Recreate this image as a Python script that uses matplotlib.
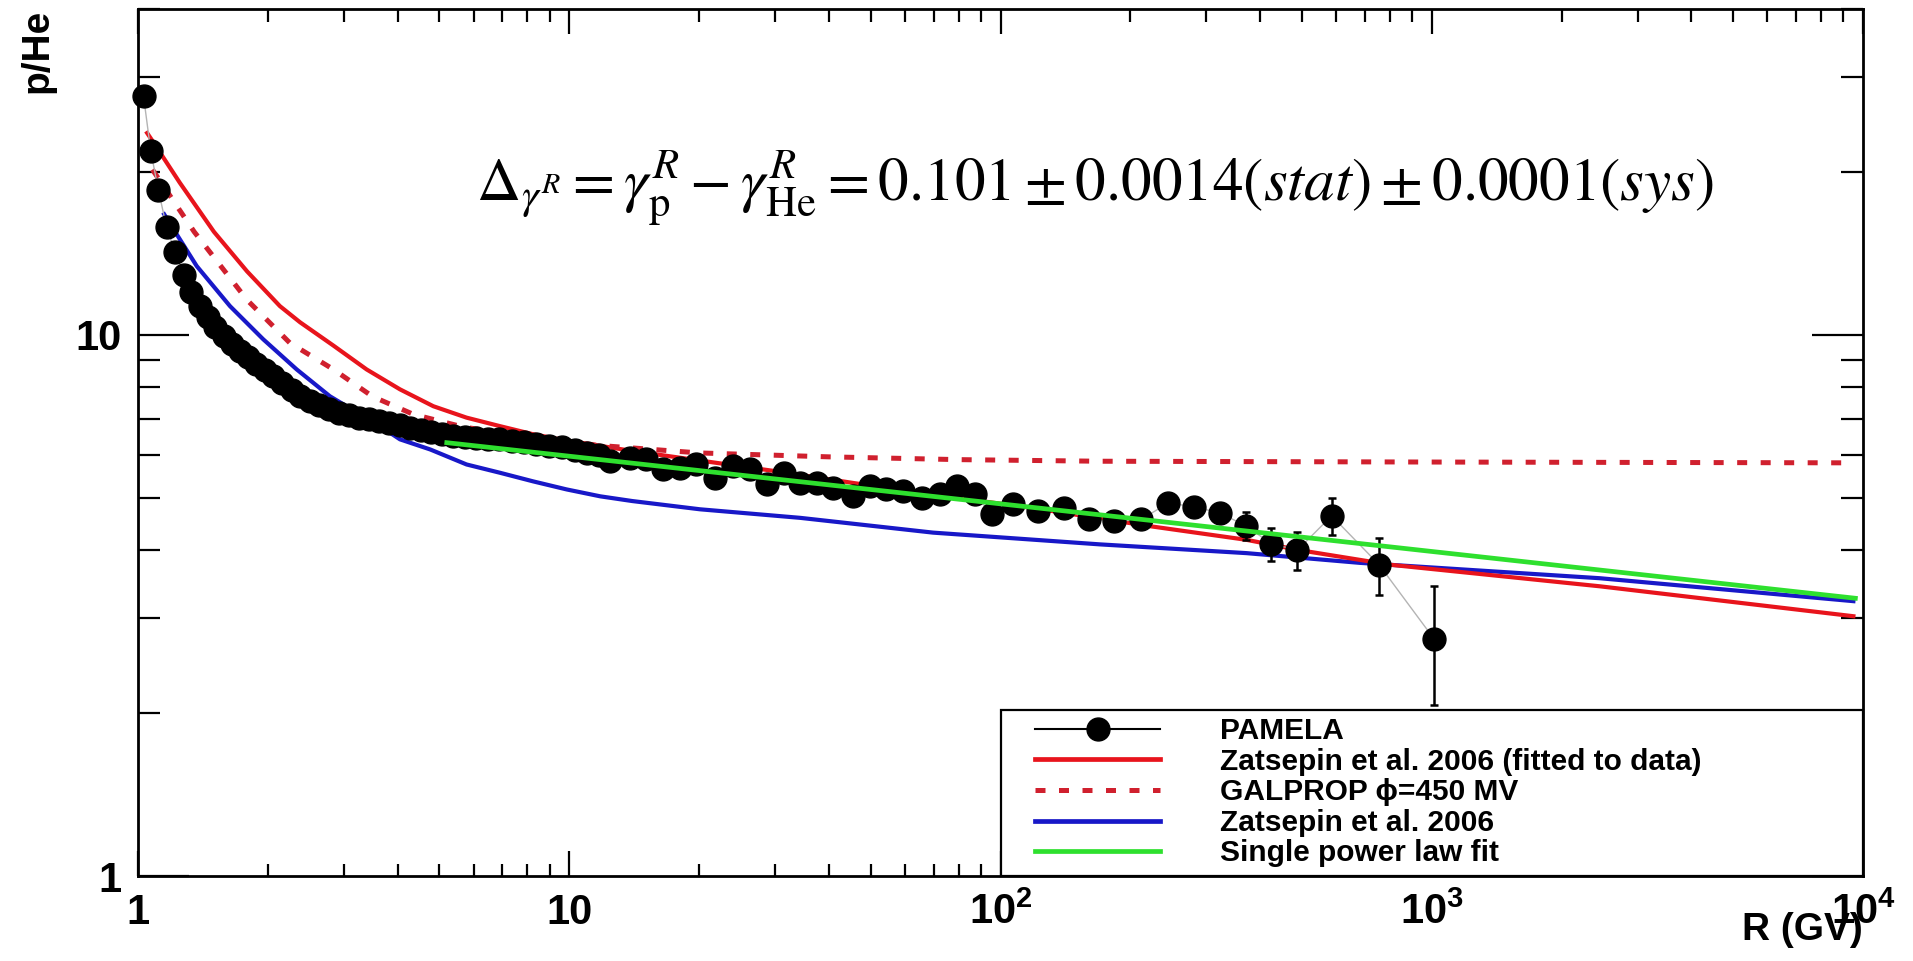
import matplotlib
matplotlib.use('Agg')
import matplotlib.pyplot as plt
from matplotlib.lines import Line2D
from matplotlib.patches import Rectangle
from matplotlib.ticker import NullFormatter

# PAMELA p/He ratio vs rigidity R (GV)
rig = [1.03, 1.07, 1.115, 1.165, 1.22, 1.275, 1.33, 1.39, 1.45, 1.51, 1.58, 1.65,
       1.72, 1.80, 1.88, 1.97, 2.06, 2.16, 2.27, 2.38, 2.50, 2.63, 2.77, 2.92,
       3.08, 3.25, 3.43, 3.62, 3.82, 4.04, 4.27, 4.52, 4.79, 5.08, 5.39, 5.72,
       6.08, 6.47, 6.89, 7.35, 7.85, 8.39, 8.97, 9.6, 10.3, 11.0, 11.7,
       12.4, 13.8, 15.1, 16.5, 18.1, 19.7, 21.8, 24.0, 26.2, 28.7, 31.4, 34.3,
       37.5, 40.9, 45.6, 49.8, 54.4, 59.5, 65.6, 72.4, 79.1, 87.2, 95.4, 107,
       122, 140, 160, 183, 212, 245, 281, 322, 370, 425, 488, 586, 755, 1013]
ratio = [27.6, 21.9, 18.5, 15.8, 14.2, 12.9, 12.0, 11.3, 10.8, 10.35, 9.95, 9.6,
         9.35, 9.1, 8.85, 8.6, 8.38, 8.15, 7.9, 7.72, 7.55, 7.42, 7.3, 7.18,
         7.1, 7.03, 6.98, 6.92, 6.86, 6.8, 6.74, 6.67, 6.6, 6.55, 6.51, 6.48,
         6.45, 6.43, 6.41, 6.37, 6.33, 6.28, 6.24, 6.2, 6.13, 6.06, 6.0,
         5.84, 5.93, 5.89, 5.64, 5.68, 5.76, 5.44, 5.72, 5.64, 5.29, 5.56, 5.33,
         5.33, 5.22, 5.03, 5.25, 5.18, 5.14, 5.00, 5.07, 5.25, 5.07, 4.66, 4.86,
         4.72, 4.79, 4.56, 4.52, 4.56, 4.89, 4.81, 4.69, 4.44, 4.11, 4.00, 4.63, 3.76, 2.74]
# visible error bars on the last six points
err_lo = [0.27, 0.29, 0.33, 0.36, 0.46, 0.67]
err_hi = [0.27, 0.29, 0.33, 0.36, 0.46, 0.69]

# Zatsepin et al. 2006 (fitted to data)
zfit_x = [1.05, 1.085, 1.25, 1.5, 1.79, 2.133, 2.375, 2.84, 3.39, 4.05, 4.84, 5.78,
          6.91, 8.25, 9.52, 14, 30, 60, 120, 222, 372, 494, 800, 2455, 9500]
zfit_y = [23.6, 22.7, 19.1, 15.5, 13.1, 11.3, 10.55, 9.55, 8.63, 7.93, 7.38, 7.03,
          6.78, 6.55, 6.41, 6.1, 5.6, 5.15, 4.78, 4.43, 4.18, 4.0, 3.76, 3.43, 3.02]

# GALPROP phi=450 MV
galp_x = [1.08, 1.35, 1.79, 2.25, 2.84, 3.5, 4.35, 5.7, 8.0, 11.6, 20, 40, 80,
          170, 1000, 9500]
galp_y = [20.2, 15.5, 11.6, 9.66, 8.63, 7.69, 7.13, 6.75, 6.5, 6.25, 6.05, 5.95, 5.88,
          5.84, 5.82, 5.80]

# Zatsepin et al. 2006
zats_x = [1.15, 1.207, 1.368, 1.634, 1.952, 2.334, 2.786, 3.39, 3.64, 4.05, 4.76, 5.78,
          6.91, 8.25, 9.86, 11.8, 14.0, 20.1, 34.3, 69.8, 170, 372, 681, 2455, 9500]
zats_y = [16.7, 15.7, 13.4, 11.3, 9.81, 8.63, 7.70, 7.01, 6.78, 6.41, 6.14, 5.76,
          5.56, 5.36, 5.18, 5.03, 4.93, 4.76, 4.59, 4.31, 4.10, 3.95, 3.79, 3.55, 3.22]

# single power law fit
spl_x = [5.2, 9600]
spl_y = [6.32, 3.26]

xticks = [1, 10, 100, 1000, 10000]
xtick_labels = ['1', '10', r'$\mathregular{10^{2}}$', r'$\mathregular{10^{3}}$', r'$\mathregular{10^{4}}$']
yticks = [1, 10]
ytick_labels = ['1', '10']

legend_labels = ['PAMELA', 'Zatsepin et al. 2006 (fitted to data)', 'GALPROP \u03d5=450 MV',
                 'Zatsepin et al. 2006', 'Single power law fit']

RED = '#e8141c'
DRED = '#d0202e'
BLUE = '#1818c8'
GREEN = '#2ee02e'
FAM = ['Liberation Sans', 'DejaVu Sans']

plt.rcParams['font.family'] = FAM
plt.rcParams['mathtext.fontset'] = 'custom'
plt.rcParams['mathtext.rm'] = 'Liberation Sans:bold'
plt.rcParams['mathtext.it'] = 'Liberation Sans:italic:bold'
plt.rcParams['mathtext.bf'] = 'Liberation Sans:bold'

fig = plt.figure(figsize=(19.13, 9.61), dpi=100)
ax = fig.add_axes([138 / 1913, 1 - 876 / 961, 1725 / 1913, 867 / 961])
ax.set_xscale('log')
ax.set_yscale('log')
ax.set_xlim(1, 1e4)
ax.set_ylim(1, 40)

ax.plot(zats_x, zats_y, color=BLUE, lw=3.0, zorder=2)
ax.plot(zfit_x, zfit_y, color=RED, lw=3.0, zorder=2)
ax.plot(galp_x, galp_y, color=DRED, lw=3.6, linestyle=(0, (2.0, 2.7)), zorder=2)

ax.plot(rig, ratio, color='#b4b4b4', lw=1.0, zorder=3)
ax.errorbar(rig[-6:], ratio[-6:], yerr=[err_lo, err_hi], fmt='none', ecolor='black',
            elinewidth=1.8, capsize=3, capthick=1.8, zorder=4)
ax.plot(rig, ratio, 'o', color='black', ms=16.5, zorder=5, clip_on=False)

ax.plot(spl_x, spl_y, color=GREEN, lw=3.4, zorder=6)

# axes styling (ROOT-like)
for sp in ax.spines.values():
    sp.set_linewidth(2)
ax.tick_params(which='both', direction='in', top=True, right=True, width=1.6, pad=12)
ax.tick_params(axis='x', which='major', length=18)
ax.tick_params(axis='x', which='minor', length=9)
ax.tick_params(axis='y', which='major', length=37)
ax.tick_params(axis='y', which='minor', length=16)
ax.set_xticks(xticks)
ax.set_xticklabels(xtick_labels, fontsize=30, fontweight='bold')
ax.set_yticks(yticks)
ax.set_yticklabels(ytick_labels, fontsize=30, fontweight='bold')
ax.xaxis.set_minor_formatter(NullFormatter())
ax.yaxis.set_minor_formatter(NullFormatter())

ax.set_xlabel('R (GV)', fontsize=28, fontweight='bold', loc='right')
ax.xaxis.set_label_coords(1.0, -0.042)
ax.set_ylabel('p/He', fontsize=28, fontweight='bold', loc='top')
ax.yaxis.set_label_coords(-0.048, 1.0)

eq = (r'$\Delta_{\gamma^{R}} = \gamma_{\mathrm{p}}^{R} - \gamma_{\mathrm{He}}^{R} = '
      r'0.101 \pm 0.0014\left(stat\right) \pm 0.0001\left(sys\right)$')
ax.text(0.196, 0.7785, eq, transform=ax.transAxes, fontsize=44, math_fontfamily='stix',
        ha='left', va='baseline', zorder=7)

# legend box
ax.add_patch(Rectangle((0.5, 0.0), 0.5, 0.1915, transform=ax.transAxes, facecolor='white',
                       edgecolor='black', lw=1.6, zorder=8, clip_on=False))
handles = [Line2D([], [], color='black', lw=1.5, marker='o', ms=16.5),
           Line2D([], [], color=RED, lw=3.4),
           Line2D([], [], color=DRED, lw=3.6, linestyle=(0, (2.0, 2.7))),
           Line2D([], [], color=BLUE, lw=3.4),
           Line2D([], [], color=GREEN, lw=3.4)]
leg = ax.legend(handles, legend_labels, loc='upper left', bbox_to_anchor=(0.52, 0.183),
                frameon=False, handlelength=4.2, handletextpad=2.0, labelspacing=0.085,
                borderpad=0, borderaxespad=0, numpoints=1,
                prop={'family': FAM, 'weight': 'bold', 'size': 21.5})
leg.set_zorder(9)

fig.savefig('out.png', dpi=100, facecolor='white')
